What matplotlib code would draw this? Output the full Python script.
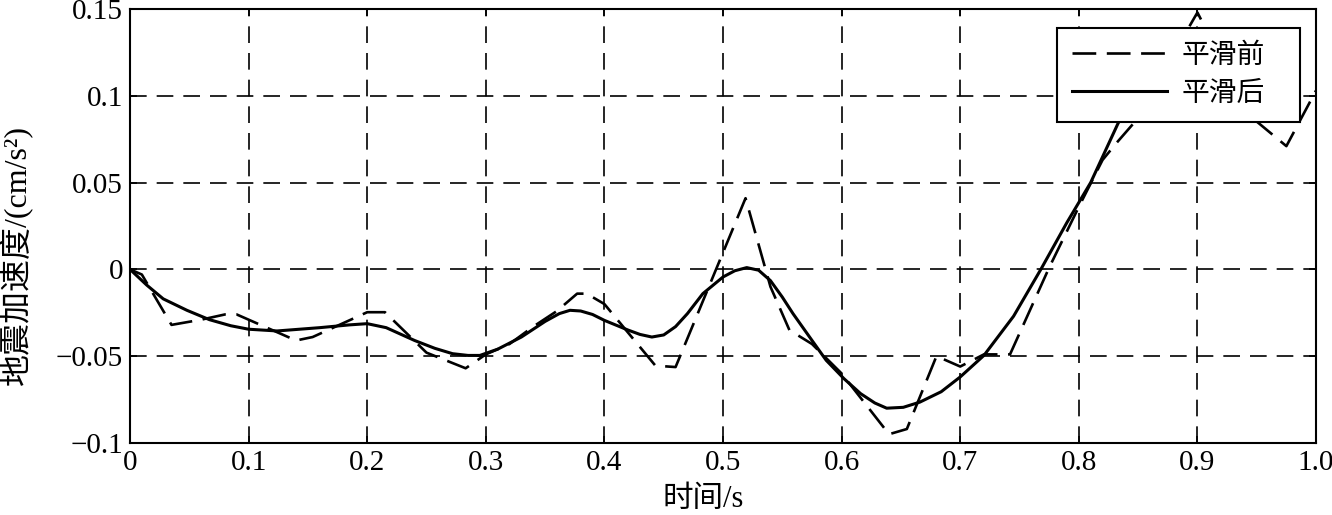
import matplotlib
matplotlib.use("Agg")
import matplotlib.pyplot as plt
import numpy as np

plt.rcParams['font.family'] = ['Liberation Serif', 'Noto Sans CJK SC']
plt.rcParams['axes.unicode_minus'] = True

# 平滑前 (raw record, piecewise)
t_raw = [0, 0.01, 0.035, 0.06, 0.08, 0.09, 0.14, 0.154, 0.2, 0.215, 0.25, 0.283,
         0.30, 0.32, 0.34, 0.36, 0.377, 0.385, 0.40, 0.443, 0.46, 0.519, 0.54,
         0.556, 0.575, 0.60, 0.64, 0.655, 0.68, 0.70, 0.72, 0.742, 0.775, 0.80,
         0.82, 0.832, 0.846, 0.90, 0.945, 0.975, 1.0]
a_raw = [0, -0.003, -0.032, -0.029, -0.026, -0.026, -0.041, -0.039, -0.0247, -0.0247,
         -0.048, -0.057, -0.049, -0.043, -0.033, -0.024, -0.014, -0.014, -0.020,
         -0.0555, -0.0563, 0.041, -0.01, -0.035, -0.043, -0.06, -0.095, -0.092,
         -0.050, -0.056, -0.049, -0.049, 0.001, 0.036, 0.063, 0.073, 0.084, 0.148,
         0.088, 0.071, 0.103]

# 平滑后 (smoothed record)
t_sm = [0, 0.014, 0.028, 0.048, 0.067, 0.085, 0.1, 0.124, 0.16, 0.185, 0.2, 0.216,
        0.24, 0.257, 0.272, 0.285, 0.295, 0.31, 0.33, 0.35, 0.362, 0.371, 0.38,
        0.39, 0.40, 0.42, 0.43, 0.44, 0.45, 0.46, 0.47, 0.483, 0.5, 0.51, 0.52,
        0.53, 0.54, 0.55, 0.559, 0.573, 0.587, 0.602, 0.616, 0.628, 0.638, 0.652,
        0.666, 0.684, 0.70, 0.72, 0.745, 0.768, 0.79, 0.81, 0.833, 0.85, 0.87]
a_sm = [0, -0.009, -0.017, -0.0236, -0.029, -0.0325, -0.0345, -0.0355, -0.0336,
        -0.032, -0.0313, -0.0336, -0.041, -0.0455, -0.0486, -0.0496, -0.0496,
        -0.046, -0.039, -0.030, -0.0255, -0.0236, -0.024, -0.026, -0.0294, -0.035,
        -0.0375, -0.039, -0.0378, -0.033, -0.0255, -0.014, -0.0044, -0.0008, 0.001,
        -0.0005, -0.0065, -0.016, -0.0255, -0.039, -0.0524, -0.063, -0.0716, -0.077,
        -0.080, -0.0795, -0.0765, -0.0705, -0.062, -0.0496, -0.027, 0.0, 0.027,
        0.05, 0.084, 0.105, 0.13]

xticks = [0, 0.1, 0.2, 0.3, 0.4, 0.5, 0.6, 0.7, 0.8, 0.9, 1.0]
xlabels = ['0', '0.1', '0.2', '0.3', '0.4', '0.5', '0.6', '0.7', '0.8', '0.9', '1.0']
yticks = [-0.1, -0.05, 0, 0.05, 0.1, 0.15]
ylabels = ['\u22120.1', '\u22120.05', '0', '0.05', '0.1', '0.15']

fig = plt.figure(figsize=(13.32, 5.15), dpi=100)
ax = fig.add_axes([0.0976, 0.140, 0.8904, 0.8425])

ax.plot(t_raw, a_raw, color='black', lw=1.9, dashes=(9, 4), label='平滑前')
ax.plot(t_sm, a_sm, color='black', lw=2.2, label='平滑后')

ax.set_xlim(0, 1.0)
ax.set_ylim(-0.1, 0.15)
ax.set_xticks(xticks)
ax.set_xticklabels(xlabels)
ax.set_yticks(yticks)
ax.set_yticklabels(ylabels)
ax.tick_params(direction='in', length=5, width=1.2, labelsize=21,
               top=True, right=True, pad=5)
ax.grid(True, color='black', lw=1.2, dashes=(10, 6))
for s in ax.spines.values():
    s.set_linewidth(1.5)

ax.set_xlabel('时间/s', fontsize=22, va='center')
ax.xaxis.set_label_coords(0.483, -0.131)
ax.set_ylabel('地震加速度/(cm/s²)', fontsize=23, va='center')
ax.yaxis.set_label_coords(-0.096, 0.433)

leg = ax.legend(loc='upper left', bbox_to_anchor=(0.7816, 0.0, 0.2049, 0.956),
                mode='expand', fontsize=20, frameon=True, fancybox=False,
                handlelength=3.4, borderpad=0.55, labelspacing=0.44,
                handletextpad=0.55, borderaxespad=0)
leg.get_frame().set_edgecolor('black')
leg.get_frame().set_linewidth(1.5)
leg.get_frame().set_alpha(1)

fig.savefig('out.png', dpi=100)
